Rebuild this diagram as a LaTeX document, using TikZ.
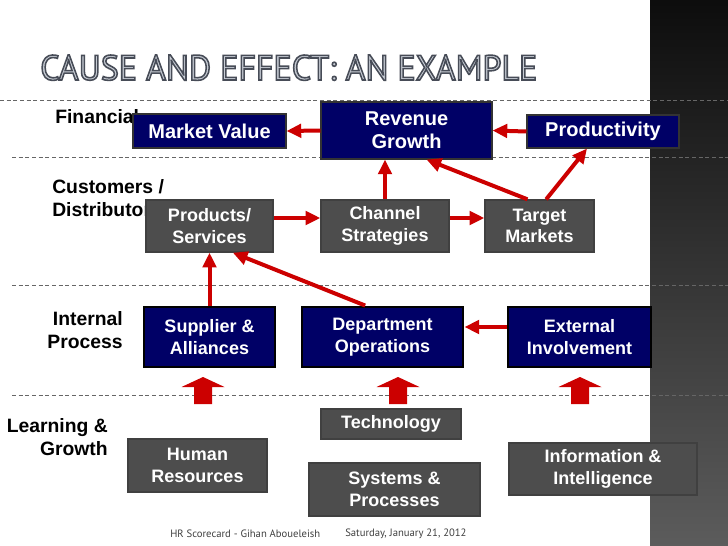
\documentclass[tikz,border=0pt]{standalone}
\usepackage{fontspec}
\setmainfont{Liberation Sans}
\newfontfamily\titlefont{PT Sans}
\newfontfamily\footfont{PT Sans}
\usepackage{graphicx}
\usetikzlibrary{arrows.meta}

\definecolor{navyblue}{RGB}{0,0,102}
\definecolor{boxgray}{RGB}{77,77,77}
\definecolor{arrowred}{RGB}{204,0,0}
\definecolor{titlefill}{RGB}{200,205,213}

% outlined letters for the title
\newcommand{\outlinetext}[1]{\special{pdf:literal direct 0.28 0.30 0.34 RG 0.45 w 2 Tr}#1\special{pdf:literal direct 0 Tr}}

\begin{document}
\begin{tikzpicture}[x=0.75pt, y=-0.75pt,
    boxsize/.style 2 args={minimum width=#1*0.75pt, minimum height=#2*0.75pt},
    navybox/.style={draw=black!80, line width=0.8pt, fill=navyblue, text=white, align=center, inner sep=0pt, font=\bfseries\fontsize{15}{17.5}\selectfont},
    procbox/.style={navybox, draw=black, line width=2.2pt, font=\bfseries\fontsize{13.5}{16.5}\selectfont},
    graybox/.style={draw=black!75, line width=1pt, fill=boxgray, text=white, align=center, inner sep=0pt, font=\bfseries\fontsize{13.5}{16.25}\selectfont},
    rowlabel/.style={font=\bfseries\fontsize{14.5}{17.5}\selectfont, inner sep=0pt},
    redarrow/.style={draw=arrowred, line width=3pt, -{Triangle[length=11pt, width=10pt]}},
    rowline/.style={dashed, dash pattern=on 3pt off 2pt, draw=black!60, line width=0.7pt},
    footertext/.style={font=\footfont\fontsize{8}{9.5}\selectfont, text=black!75, inner sep=0pt}]

    % Page and the dark band on the right
    \useasboundingbox (0,0) rectangle (728,546);
    \fill[white] (0,0) rectangle (728,546);
    \shade[top color=black!95, bottom color=black!64] (650,0) rectangle (728,546);

    % Dashed lines between the rows
    \draw[rowline] (0,100) -- (728,100);
    \draw[rowline] (12,157) -- (728,157);
    \draw[rowline] (12,285) -- (728,285);
    \draw[rowline] (12,395) -- (728,395);

    % Row labels (partly hidden by the boxes)
    \node[rowlabel, anchor=west] (fin) at (55,117) {Financial};
    \node[rowlabel, anchor=west, align=left] (cust) at (52,198) {Customers /\\Distributors};
    \node[rowlabel, anchor=east, align=right] (intp) at (123,330) {Internal\\Process};
    \node[rowlabel, anchor=east, align=right] (learn) at (108,437) {Learning \&\\Growth};

    % Financial row
    \node[navybox, boxsize={153}{34}] (mv) at (209.5,131) {Market Value};
    \node[navybox, boxsize={171}{57}] (rg) at (406.5,130.5) {Revenue\\Growth};
    \node[navybox, boxsize={152}{33}] (pr) at (603,131.5) {Productivity};

    % Customers row
    \node[graybox, boxsize={127}{52}] (ps) at (209.5,226) {Products/\\Services};
    \node[graybox, boxsize={128}{52}] (cs) at (385,226) {Channel\\Strategies};
    \node[graybox, boxsize={109}{52}] (tm) at (539.5,226) {Target\\Markets};

    % Internal process row
    \node[procbox, boxsize={131}{60}] (sa) at (209.5,337) {Supplier \&\\Alliances};
    \node[procbox, boxsize={161}{60}] (dept) at (382.5,337) {Department\\Operations};
    \node[procbox, boxsize={143}{60}] (ei) at (579.5,337) {External\\Involvement};

    % Learning and growth row
    \node[graybox, boxsize={140}{30}] (te) at (391,424) {Technology};
    \node[graybox, boxsize={139}{53}] (hr) at (197.5,465.5) {Human\\Resources};
    \node[graybox, boxsize={171}{53}] (sp) at (394.5,489.5) {Systems \&\\Processes};
    \node[graybox, boxsize={188}{52}] (ii) at (603,469) {Information \&\\Intelligence};

    % Cause and effect arrows
    \draw[redarrow] (rg.west) -- (mv.east);
    \draw[redarrow] (pr.west) -- (rg.east);
    \draw[redarrow] ([yshift=6pt]ps.east) -- ([yshift=6pt]cs.west);
    \draw[redarrow] ([yshift=6pt]cs.east) -- ([yshift=6pt]tm.west);
    \draw[redarrow] (cs.north) -- (cs.north |- rg.south);
    \draw[redarrow] ([xshift=-9pt]tm.north) -- ([xshift=15pt]rg.south);
    \draw[redarrow] ([xshift=5pt]tm.north) -- ([xshift=-12pt]pr.south);
    \draw[redarrow] (sa.north) -- (ps.south);
    \draw[redarrow] ([xshift=-13pt]dept.north) -- ([xshift=17.5pt]ps.south);
    \draw[redarrow] ([yshift=7.5pt]ei.west) -- ([yshift=7.5pt]dept.east);

    % Block arrows from learning and growth
    \foreach \bx in {203,398,580}
        \fill[arrowred] (\bx-9,404) -- (\bx-9,387) -- (\bx-21.5,387) -- (\bx,377)
            -- (\bx+21.5,387) -- (\bx+9,387) -- (\bx+9,404) -- cycle;

    % Title and footer
    \node[anchor=base west, inner sep=0pt, text=titlefill] (title) at (40,80)
        {\resizebox{372.75pt}{18.75pt}{\titlefont\outlinetext{CAUSE AND EFFECT: AN EXAMPLE}}};
    \node[footertext, anchor=west] (author) at (170,534) {HR Scorecard - Gihan Aboueleish};
    \node[footertext, anchor=west] (date) at (345,534) {Saturday, January 21, 2012};
\end{tikzpicture}
\end{document}
